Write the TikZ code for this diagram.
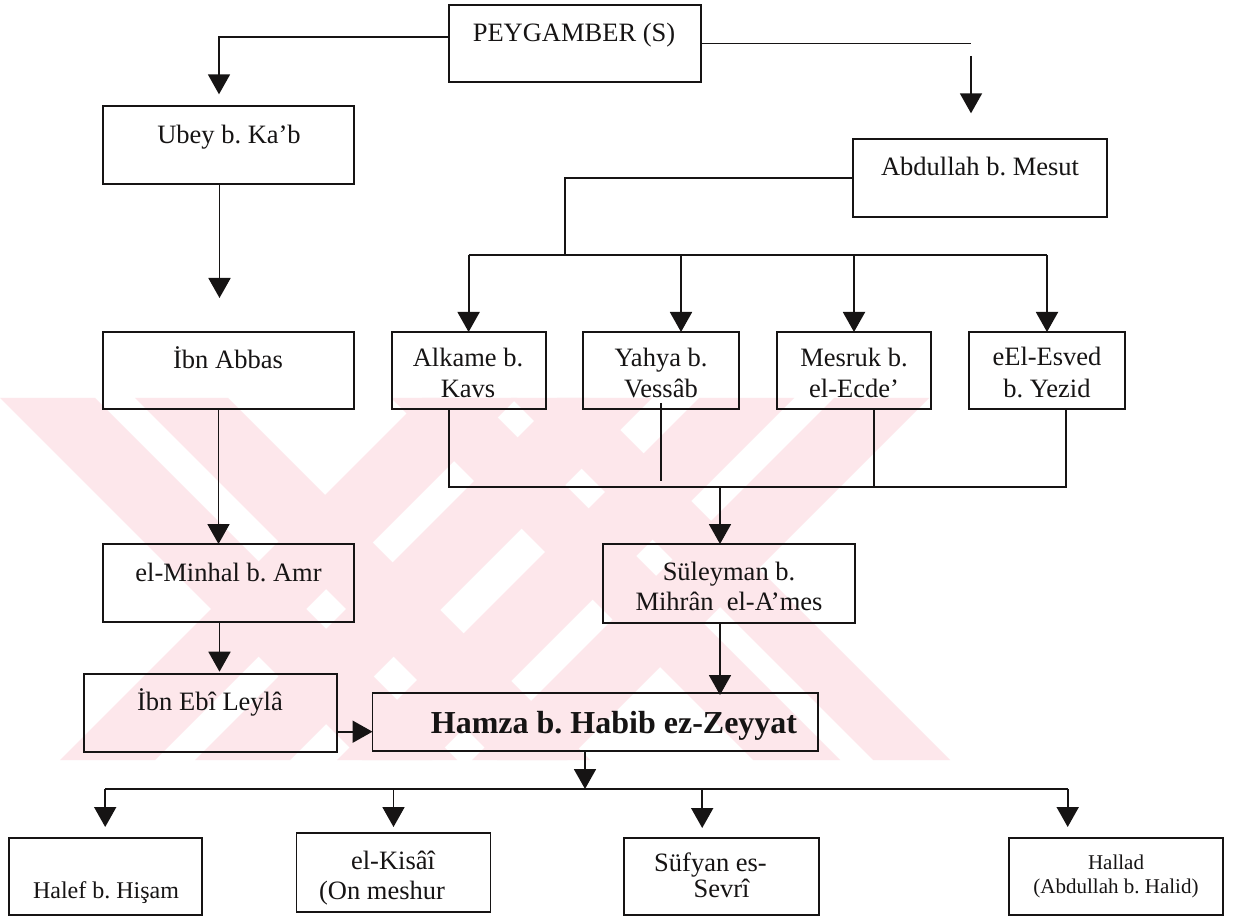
\documentclass[tikz,border=0pt]{standalone}
\usepackage{fontspec}
\setmainfont{Liberation Serif}
\usetikzlibrary{arrows.meta}
\definecolor{ink}{RGB}{22,20,20}
\definecolor{wm}{RGB}{253,231,235}

\begin{document}
\frenchspacing
\begin{tikzpicture}[x=1pt,y=-1pt,
  box/.style={draw=ink, line width=1.9pt, inner sep=0pt, outer sep=0pt},
  wire/.style={draw=ink, line width=1.9pt},
  arr/.style={-{Triangle[length=20pt,width=22pt]}},
  lbl/.style={font=\fontsize{26.5}{31}\selectfont, inner sep=0pt, anchor=base, text=ink},
  lblbig/.style={font=\fontsize{32}{36}\selectfont\bfseries, inner sep=0pt, anchor=base, text=ink},
  lblmid/.style={font=\fontsize{24}{28}\selectfont, inner sep=0pt, anchor=base, text=ink},
  lblsmall/.style={font=\fontsize{21}{25}\selectfont, inner sep=0pt, anchor=base, text=ink}]

\useasboundingbox (0,0) rectangle (1235,917);
\fill[white] (0,0) rectangle (1235,917);

% background emblem: two crossed pairs of striped diagonal bands
\begin{scope}
  \clip (0,398) rectangle (965,760);
  % first cross, falling bands
  \fill[wm] (0,398) -- (95,398) -- (457,760) -- (362,760) -- cycle;
  \fill[wm] (135,398) -- (228,398) -- (590,760) -- (497,760) -- cycle;
  % first cross, rising bands
  \fill[wm] (422,398) -- (517,398) -- (155,760) -- (60,760) -- cycle;
  \fill[wm] (557,398) -- (652,398) -- (290,760) -- (195,760) -- cycle;
  % second cross, falling bands
  \fill[wm] (391,398) -- (478,398) -- (840,760) -- (753,760) -- cycle;
  \fill[wm] (511,398) -- (588,398) -- (950,760) -- (873,760) -- cycle;
  % second cross, rising bands
  \fill[wm] (699,398) -- (794,398) -- (432,760) -- (337,760) -- cycle;
  \fill[wm] (834,398) -- (929,398) -- (567,760) -- (472,760) -- cycle;
\end{scope}

% boxes
\node[box, minimum width=252pt, minimum height=77pt] (peyg) at (575,43.5) {};
\node[box, minimum width=251pt, minimum height=78pt] (ubey) at (228.5,145) {};
\node[box, minimum width=254pt, minimum height=78pt] (abd) at (980,178) {};
\node[box, minimum width=251pt, minimum height=77pt] (ibnab) at (228.5,370.5) {};
\node[box, minimum width=154pt, minimum height=77pt] (alk) at (468.6,370.5) {};
\node[box, minimum width=156pt, minimum height=77pt] (yah) at (661,370.5) {};
\node[box, minimum width=154pt, minimum height=77pt] (mes) at (854,370.5) {};
\node[box, minimum width=156pt, minimum height=77pt] (esv) at (1047,370.5) {};
\node[box, minimum width=251pt, minimum height=78pt] (minh) at (228.5,583) {};
\node[box, minimum width=252pt, minimum height=79pt] (sul) at (729,583.5) {};
\node[box, minimum width=253pt, minimum height=78pt] (ebi) at (210.5,713) {};
\node[box, minimum width=445.5pt, minimum height=58pt] (hamza) at (595.25,722) {};
\node[box, minimum width=193pt, minimum height=77pt] (halef) at (105.2,876.5) {};
\node[box, minimum width=194pt, minimum height=79pt] (kis) at (393.5,872.5) {};
\node[box, minimum width=195pt, minimum height=77pt] (suf) at (721.2,876.5) {};
\node[box, minimum width=214pt, minimum height=77pt] (hal) at (1116,876.5) {};

% texts
\node[lbl] (peyg-t) at (574,41.5) {PEYGAMBER (S)};
\node[lbl] (ubey-t) at (229,144) {Ubey b. Ka’b};
\node[lbl] (abd-t) at (980,176) {Abdullah b. Mesut};
\node[lbl] (ibnab-t) at (228,369) {İbn Abbas};
\node[lbl] (alk-t1) at (468,366.5) {Alkame b.};
\node[lbl] (alk-t2) at (468,398) {Kavs};
\node[lbl] (yah-t1) at (661,366.5) {Yahya b.};
\node[lbl] (yah-t2) at (661,398) {Vessâb};
\node[lbl] (mes-t1) at (854,366.5) {Mesruk b.};
\node[lbl] (mes-t2) at (854,398) {el-Ecde’};
\node[lbl] (esv-t1) at (1047,366) {eEl-Esved};
\node[lbl] (esv-t2) at (1047,397.5) {b. Yezid};
\node[lbl] (minh-t) at (228.5,581) {el-Minhal b. Amr};
\node[lbl] (sul-t1) at (729,580) {Süleyman b.};
\node[lbl] (sul-t2) at (729,610) {Mihrân\ \ el-A’mes};
\node[lbl] (ebi-t) at (210,710) {İbn Ebî Leylâ};
\node[lblbig] (hamza-t) at (614,733.3) {Hamza b. Habib ez-Zeyyat};
\node[lblmid] (halef-t) at (106,898) {Halef b. Hişam};
\node[lbl] (kis-t1) at (393,869.3) {el-Kisâî};
\node[lbl] (kis-t2) at (382,899) {(On meshur};
\node[lbl] (suf-t1) at (710.5,871) {Süfyan es-};
\node[lbl] (suf-t2) at (721.6,897.5) {Sevrî};
\node[lblsmall] (hal-t1) at (1116,869.3) {Hallad};
\node[lblsmall] (hal-t2) at (1116,893.3) {(Abdullah b. Halid)};

% junction points and free arrow ends
\coordinate (ubeyin) at (219,94.3);
\coordinate (peygr) at (971,43.5);
\coordinate (abdgap) at (971,56);
\coordinate (abdin) at (971,113.3);
\coordinate (ibnabin) at (219.5,298);
\coordinate (split1) at (565,255);
\coordinate (join) at (720,487);
\coordinate (yahend) at (661,481);
\coordinate (split2) at (585,789);

% top level
\draw[wire,arr] ([yshift=6.8pt]peyg.west) -| (ubeyin);
\draw[wire] (peyg.east) -- (peygr);
\draw[wire,arr] (abdgap) -- (abdin);

% left chain
\draw[wire,arr] (ubey.south -| ibnabin) -- (ibnabin);
\draw[wire,arr] ([xshift=-10pt]ibnab.south) -- ([xshift=-10pt]minh.north);
\draw[wire,arr] ([xshift=-9pt]minh.south) -- ([xshift=9pt,yshift=2.3pt]ebi.north);
\draw[wire,arr] ([yshift=-18.7pt]ebi.east) -- ([yshift=-18.7pt]ebi.east -| hamza.west);

% branches under Abdullah b. Mesut
\draw[wire] (abd.west) -| (split1);
\draw[wire] (alk.north |- split1) -- (esv.north |- split1);
\draw[wire,arr] (alk.north |- split1) -- (alk.north);
\draw[wire,arr] ([xshift=20pt]yah.north |- split1) -- ([xshift=20pt]yah.north);
\draw[wire,arr] (mes.north |- split1) -- (mes.north);
\draw[wire,arr] (esv.north |- split1) -- (esv.north);

% gathering line into Suleyman
\draw[wire] ([xshift=-19.6pt]alk.south) |- ([xshift=19pt]esv.south |- join) -- ([xshift=19pt]esv.south);
\draw[wire] ([yshift=6pt]yah.south) -- (yahend);
\draw[wire] ([xshift=20pt]mes.south) -- ([xshift=20pt]mes.south |- join);
\draw[wire,arr] (join) -- (join |- sul.north);
\draw[wire,arr] ([xshift=-9pt]sul.south) -- ([xshift=-9pt,yshift=-2pt]sul.south |- hamza.north);

% students of Hamza
\draw[wire,arr] (hamza.south -| split2) -- (split2);
\draw[wire] (halef.north |- split2) -- ([xshift=-48.3pt]hal.north |- split2);
\draw[wire,arr] (halef.north |- split2) -- ([yshift=11pt]halef.north);
\draw[wire,arr] (kis.north |- split2) -- ([yshift=6pt]kis.north);
\draw[wire,arr] ([xshift=-19pt]suf.north |- split2) -- ([xshift=-19pt,yshift=10pt]suf.north);
\draw[wire,arr] ([xshift=-48.3pt]hal.north |- split2) -- ([xshift=-48.3pt,yshift=11pt]hal.north);
\end{tikzpicture}
\end{document}
